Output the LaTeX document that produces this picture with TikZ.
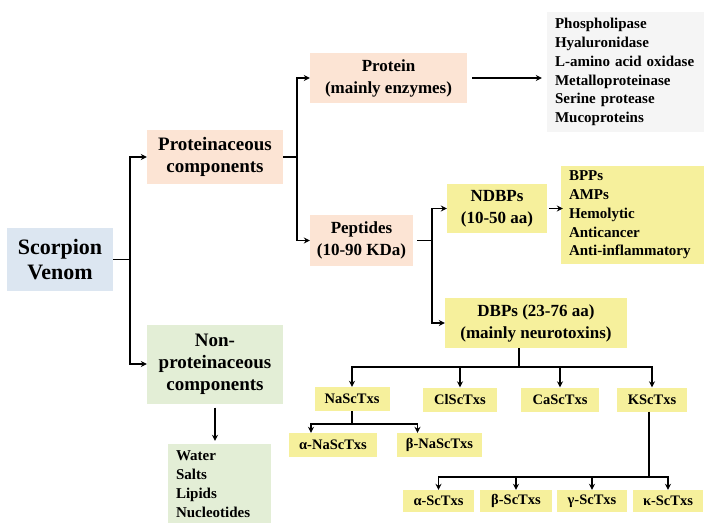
\documentclass[tikz,border=0pt]{standalone}
\usepackage{fontspec}
\setmainfont{Liberation Serif}
\usetikzlibrary{arrows.meta}
\definecolor{venomblue}{HTML}{DCE6F1}
\definecolor{peach}{HTML}{FCE4D4}
\definecolor{sage}{HTML}{E3EED6}
\definecolor{lemon}{HTML}{F6F09C}
\definecolor{mist}{HTML}{F5F5F5}

\begin{document}
\begin{tikzpicture}[x=1pt,y=-1pt,
  box/.style={inner sep=0pt, align=center, font=\bfseries\fontsize{17}{22}\selectfont},
  tox/.style={box, fill=lemon, minimum height=24pt, font=\bfseries\fontsize{14.5}{17}\selectfont},
  list/.style={inner xsep=8pt, inner ysep=0pt, align=left, font=\bfseries\fontsize{15}{18.8}\selectfont},
  arr/.style={-{Stealth[length=6pt,width=6pt]}, line width=1.8pt},
  link/.style={line width=1.8pt}]
\useasboundingbox (0,0) rectangle (704,522);

\node[box, fill=venomblue, minimum width=106pt, minimum height=63pt, font=\bfseries\fontsize{22}{25}\selectfont] (venom) at (60,259.5) {Scorpion\\Venom};
\node[box, fill=peach, minimum width=136pt, minimum height=54pt, font=\bfseries\fontsize{19}{22}\selectfont] (prot) at (215,157) {Proteinaceous\\components};
\node[box, fill=sage, minimum width=136pt, minimum height=79pt, font=\bfseries\fontsize{19}{22}\selectfont] (nonprot) at (215,364) {Non-\\proteinaceous\\components};
\node[list, fill=sage, minimum width=103pt, minimum height=80pt, text width=87pt] (water) at (219.5,484) {Water\\Salts\\Lipids\\Nucleotides};

\node[box, fill=peach, minimum width=157pt, minimum height=50pt] (protein) at (388.5,78) {Protein\\(mainly enzymes)};
\node[box, fill=peach, minimum width=103pt, minimum height=51pt] (pept) at (361.5,240.5) {Peptides\\(10-90 KDa)};
\node[list, fill=mist, minimum height=120pt, text width=141pt] (enz) at (625.5,72) {Phospholipase\\Hyaluronidase\\L-amino acid oxidase\\Metalloproteinase\\Serine protease\\Mucoproteins};

\node[box, fill=lemon, minimum width=100pt, minimum height=49pt] (ndbp) at (497,208.5) {NDBPs\\(10-50 aa)};
\node[list, fill=lemon, minimum height=98pt, text width=127pt] (act) at (632.5,215) {BPPs\\AMPs\\Hemolytic\\Anticancer\\Anti-inflammatory};
\node[box, fill=lemon, minimum width=182pt, minimum height=50pt] (dbp) at (536,323) {DBPs (23-76 aa)\\(mainly neurotoxins)};

\node[tox, minimum width=75pt] (nasc) at (352,399) {NaScTxs};
\node[tox, minimum width=74pt] (clsc) at (460,399.5) {ClScTxs};
\node[tox, minimum width=78pt] (casc) at (560,399.5) {CaScTxs};
\node[tox, minimum width=70pt] (ksc) at (652,399.5) {KScTxs};

\node[tox, minimum width=88pt] (anasc) at (333,445) {α-NaScTxs};
\node[tox, minimum width=85pt] (bnasc) at (439.5,445) {β-NaScTxs};

\node[tox, minimum width=71pt, minimum height=22pt] (asc) at (438.5,501) {α-ScTxs};
\node[tox, minimum width=72pt, minimum height=22pt] (bsc) at (516,501) {β-ScTxs};
\node[tox, minimum width=70pt, minimum height=22pt] (gsc) at (592,501) {γ-ScTxs};
\node[tox, minimum width=70pt, minimum height=22pt] (ksc2) at (668,501) {κ-ScTxs};

\draw[link] (venom.east) -- ++(17,0) coordinate (vj);
\draw[arr] (vj) |- (prot.west);
\draw[arr] (vj) |- (nonprot.west);
\draw[arr] ([yshift=-4pt]nonprot.south) -- ([yshift=3pt]nonprot.south |- water.north);

\draw[link] (prot.east) -- ++(14,0) coordinate (pj);
\draw[arr] (pj) |- (protein.west);
\draw[arr] (pj) |- (pept.west);
\draw[arr] ([xshift=5pt]protein.east) -- ([xshift=-5pt]protein.east -| enz.west);

\draw[link] ([xshift=4pt]pept.east) -- ++(15,0) coordinate (ppj);
\draw[arr] (ppj) |- (ndbp.west);
\draw[arr] (ppj) |- (dbp.west);
\draw[arr] ([xshift=2pt]ndbp.east) -- ([xshift=2pt]ndbp.east -| act.west);

\coordinate (dbpj) at (519,367);
\draw[link] (dbpj |- dbp.south) -- (dbpj);
\foreach \t in {nasc,clsc,casc,ksc}
  \draw[arr] (dbpj) -| (\t.north);

\draw[link] (nasc.south) -- ++(0,13) coordinate (naj);
\draw[arr] (naj) -| ([xshift=-22pt]anasc.north);
\draw[arr] (naj) -| ([xshift=-22pt]bnasc.north);

\draw[link] ([xshift=-3pt]ksc.south) -- ++(0,65) coordinate (kj);
\foreach \t in {asc,bsc,gsc,ksc2}
  \draw[arr] (kj) -| (\t.north);
\end{tikzpicture}
\end{document}
